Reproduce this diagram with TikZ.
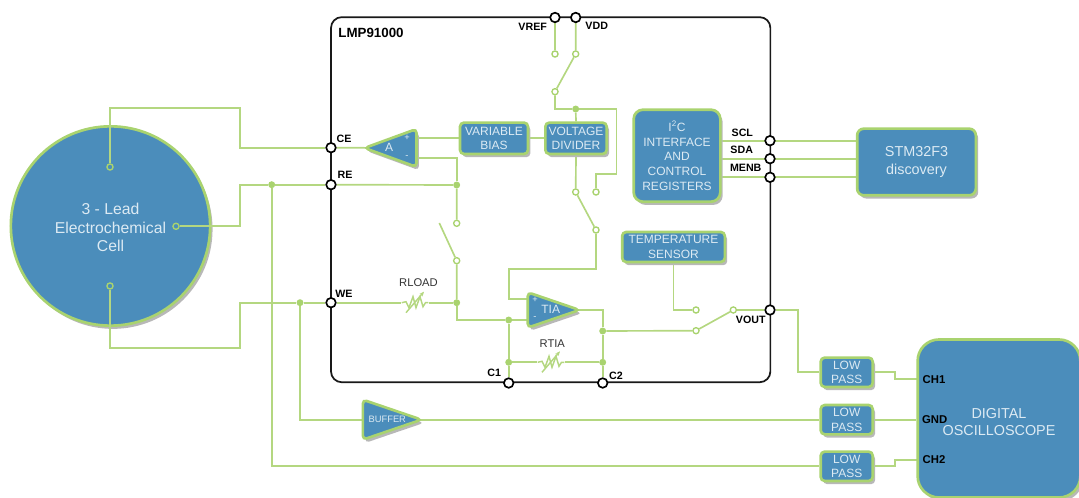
\documentclass[tikz,border=0pt]{standalone}
\usepackage{fontspec}
\setmainfont{Liberation Sans}
\usetikzlibrary{arrows.meta, positioning, shapes.geometric, shadows}
\definecolor{cellblue}{HTML}{4B8DBB}
\definecolor{leadgreen}{HTML}{A9D36F}
\definecolor{wiregreen}{HTML}{B4D780}
\definecolor{blocktext}{HTML}{DCEAF3}
\pgfdeclarelayer{celllayer}
\pgfdeclarelayer{wirelayer}
\pgfsetlayers{celllayer,wirelayer,main}
\begin{document}
\begin{tikzpicture}[
  x=0.75pt, y=-0.75pt,
  wire/.style={line width=1.25pt, wiregreen},
  softshadow/.style={drop shadow={shadow xshift=1.8pt, shadow yshift=-2.4pt, fill=black!28, opacity=1}},
  block/.style={
    draw=leadgreen, fill=cellblue, line width=2pt, text=blocktext, align=center,
    rounded corners=3pt, inner sep=0pt, softshadow,
    font=\fontsize{9}{11}\selectfont},
  lowpass/.style={block, minimum width=39pt, minimum height=22pt},
  amp/.style={
    block, isosceles triangle, isosceles triangle stretches, anchor=apex,
    rounded corners=3pt},
  amptext/.style={font=\fontsize{9}{10}\selectfont, text=blocktext, inner sep=0pt},
  port/.style={circle, draw=black, fill=white, line width=1.25pt, minimum size=7.2pt, inner sep=0pt},
  contact/.style={circle, draw=leadgreen, fill=white, line width=1pt, minimum size=4.6pt, inner sep=0pt},
  junction/.style={circle, fill=leadgreen, minimum size=5.2pt, inner sep=0pt},
  pinlbl/.style={font=\fontsize{8}{9}\selectfont\bfseries, text=black, inner sep=0pt},
  rlbl/.style={font=\fontsize{8.4}{9}\selectfont, text=black!80, inner sep=0pt},
  sign/.style={font=\fontsize{7}{8}\selectfont, text=blocktext, inner sep=0pt},
  resbox/.style={minimum width=20pt, minimum height=1pt, inner sep=0pt},
]
  \useasboundingbox (0,0) rectangle (1079,498);

  %% Cell
  \begin{pgfonlayer}{celllayer}
    \node[block, circle, minimum size=149.5pt, font=\fontsize{11.8}{13.9}\selectfont] (cell)
      at (110.5,226) {\rule{0pt}{11pt}3 - Lead\\Electrochemical\\Cell};
  \end{pgfonlayer}

  %% Chip outline
  \node[draw=black!90, line width=1.3pt, rounded corners=8pt, minimum width=329.5pt,
    minimum height=273.8pt, inner sep=0pt] (chip) at (550.7,199.7) {};
  \node[pinlbl, font=\fontsize{10}{11}\selectfont\bfseries] (chipname) at (371,33.3) {LMP91000};

  %% Blocks
  \node[block, minimum width=51pt, minimum height=23.5pt] (bias) at (494,138.3) {VARIABLE\\BIAS};
  \node[block, minimum width=46pt, minimum height=23.5pt] (divider) at (576,138.3) {VOLTAGE\\DIVIDER};
  \node[block, rounded corners=7pt, minimum width=65pt, minimum height=69pt] (i2c) at (677,155.7)
    {I\textsuperscript{2}C\\INTERFACE\\AND\\CONTROL\\REGISTERS};
  \node[block, minimum width=77pt, minimum height=22.5pt] (temp) at (673.5,247) {TEMPERATURE\\SENSOR};
  \node[block, rounded corners=5pt, minimum width=89pt, minimum height=50pt,
    font=\fontsize{10.8}{12.8}\selectfont] (stm) at (916.5,162) {STM32F3\\discovery};
  \node[lowpass] (lpa) at (846.7,372.3) {LOW\\PASS};
  \node[lowpass] (lpb) at (846.7,419.7) {LOW\\PASS};
  \node[lowpass] (lpc) at (846.7,466.3) {LOW\\PASS};
  \node[block, rounded corners=16pt, minimum width=122pt, minimum height=118.5pt,
    font=\fontsize{10.8}{12.3}\selectfont] (scope) at (999,418.5)
    {\rule{0pt}{13pt}DIGITAL\\OSCILLOSCOPE};
  \foreach \n/\x/\y/\t in {cha/934/380/CH1, chb/934.7/419.5/GND, chc/934/460/CH2}
    \node[pinlbl, font=\fontsize{8.5}{9}\selectfont\bfseries] (\n) at (\x,\y) {\t};

  %% Amplifiers
  \node[amp, shape border rotate=180, minimum width=28.5pt, minimum height=39pt] (ampA) at (361,148) {};
  \node[amp, minimum width=26.5pt, minimum height=38.8pt] (ampT) at (583,310) {};
  \node[amp, minimum width=30pt, minimum height=44pt] (buffer) at (425,419.7) {};
  \node[amptext] (ampAtxt) at (389,147.5) {A};
  \node[amptext] (ampTtxt) at (550.7,309.5) {TIA};
  \node[amptext, font=\fontsize{7}{8}\selectfont] (buffertxt) at (387.3,419) {BUFFER};
  \foreach \n/\x/\y/\t in {sa/407/137.5/+, sb/407/157/-, sc/535/299.5/+, sd/535/318/-}
    \node[sign] (\n) at (\x,\y) {\t};

  %% Pins
  \foreach \n/\x/\y/\lx/\ly/\t in {
    vref/555/17.5/532.7/26.7/VREF, vdd/575.7/17.5/596.7/26/VDD,
    ce/331/147.7/344/139.3/CE, re/331/184.7/345/175/RE, we/331/302.7/344/294/WE,
    c1/508.7/383/494.3/373/C1, c2/602.7/383/616/375.7/C2,
    scl/770/140.7/742.3/133.3/SCL, sda/770/158.7/741.7/150/SDA, menb/770/177.3/745.7/167.7/MENB,
    vout/770/310/750.7/320/VOUT} {
    \node[port] (\n) at (\x,\y) {};
    \node[pinlbl] (\n lbl) at (\lx,\ly) {\t};
  }

  %% Switch contacts
  \foreach \n/\x/\y in {
    crefa/555/54, cdda/575.7/54, cmid/555/91.7, cdiv/575.7/192, cfb/596/192, ctia/596/230,
    rswa/456.7/223.3, rswb/456.7/260.7, tsen/696/310, tout/733.3/310, tmux/696/330.7}
    \node[contact] (\n) at (\x,\y) {};
  \foreach \n/\x/\y in {celltop/110/167, cellright/176/226.3, cellbot/110/286}
    \node[contact, fill=cellblue] (\n) at (\x,\y) {};

  %% Junctions
  \foreach \n/\x/\y in {
    redot/271.7/184.7, wedot/300/302.7, vddot/575.7/109, rdot/456.7/185, wdot/456.7/302.7,
    cadot/508.7/320, cbdot/508.7/362.3, odot/602.7/331, ddot/602.7/362.3}
    \node[junction] (\n) at (\x,\y) {};

  %% Bends and amplifier inputs
  \foreach \n/\x/\y in {
    cebend/240/108.3, rebend/240/226.3, webend/240/348.3,
    aplus/415/138.3, aminus/415/158.3, tplus/530/299.3, tminus/530/320,
    fbturn/616.5/174, fbbend/508.7/269.3, rarm/439.3/223,
    voutbend/797.7/310, chabend/895/372.3, chcbend/895/466.3,
    chain/917/379.3, chcin/917/460}
    \coordinate (\n) at (\x,\y);

  %% Resistors
  \node[resbox] (rload) at (415,302.7) {};
  \node[resbox] (rtia) at (551,362.3) {};
  \node[rlbl] (rloadlbl) at (418.5,283) {RLOAD};
  \node[rlbl] (rtialbl) at (552.3,343.3) {RTIA};
  \foreach \r in {rload,rtia} {
    \draw[wire, line width=1.1pt, shift={(\r.center)}]
      (-13.3,0) -- (-9,-1) -- (-6,5) -- (-2,-6) -- (1,5) -- (5,-6) -- (8,4) -- (10.5,0) -- (13.3,0);
    \draw[wire, line width=1.1pt, -{Stealth[length=3.5pt,width=3pt]}, shift={(\r.center)}]
      (-9,10) -- (9,-11);
  }

  \begin{pgfonlayer}{wirelayer}
    %% Cell leads
    \draw[wire] (celltop) |- (cebend) |- (ce);
    \draw[wire] (cellright) -- (rebend) |- (redot) -- (re);
    \draw[wire] (cellbot) |- (webend) |- (wedot) -- (we);
    \draw[wire] (redot) |- (lpc.west);
    \draw[wire] (wedot) |- (buffer.west);
    \draw[wire] (buffer.center) -- (lpb.west);

    %% Amplifier A and supply
    \draw[wire] (ce) -- (ampA.center);
    \draw[wire] (aplus) -- (bias.west);
    \draw[wire] (bias.east) -- (divider.west);
    \draw[wire] (aminus) -| (rdot);
    \draw[wire] (re) -- (rdot) -- (rswa);
    \draw[wire] (rarm) -- (rswb) -- (wdot);
    \draw[wire] (vref) -- (crefa);
    \draw[wire] (vdd) -- (cdda) -- (cmid) |- (vddot) -- (divider.north);
    \draw[wire] (vddot) -| (fbturn) -| (cfb);
    \draw[wire] (divider.south) -- (cdiv) -- (ctia);
    \draw[wire] (ctia) |- (fbbend) |- (tplus);

    %% TIA
    \draw[wire] (we) -- (rload.west);
    \draw[wire] (rload.east) -- (wdot) |- (cadot) -- (tminus);
    \draw[wire] (cadot) -- (cbdot) -- (c1);
    \draw[wire] (cbdot) -- (rtia.west);
    \draw[wire] (rtia.east) -- (ddot) -- (c2);
    \draw[wire] (ampT.center) -| (odot) -- (ddot);
    \draw[wire] (odot) -- (tmux) -- (tout) -- (vout);
    \draw[wire] (temp.south) |- (tsen);

    %% Digital lines
    \foreach \p in {scl,sda,menb}
      \draw[wire] (i2c.east |- \p) -- (stm.west |- \p);

    %% Scope side
    \draw[wire] (vout) -- (voutbend) |- (lpa.west);
    \draw[wire] (lpa.east) -- (chabend) |- (chain);
    \draw[wire] (lpb.east) -- (lpb.east -| scope.west);
    \draw[wire] (lpc.east) -- (chcbend) |- (chcin);
  \end{pgfonlayer}
\end{tikzpicture}
\end{document}
